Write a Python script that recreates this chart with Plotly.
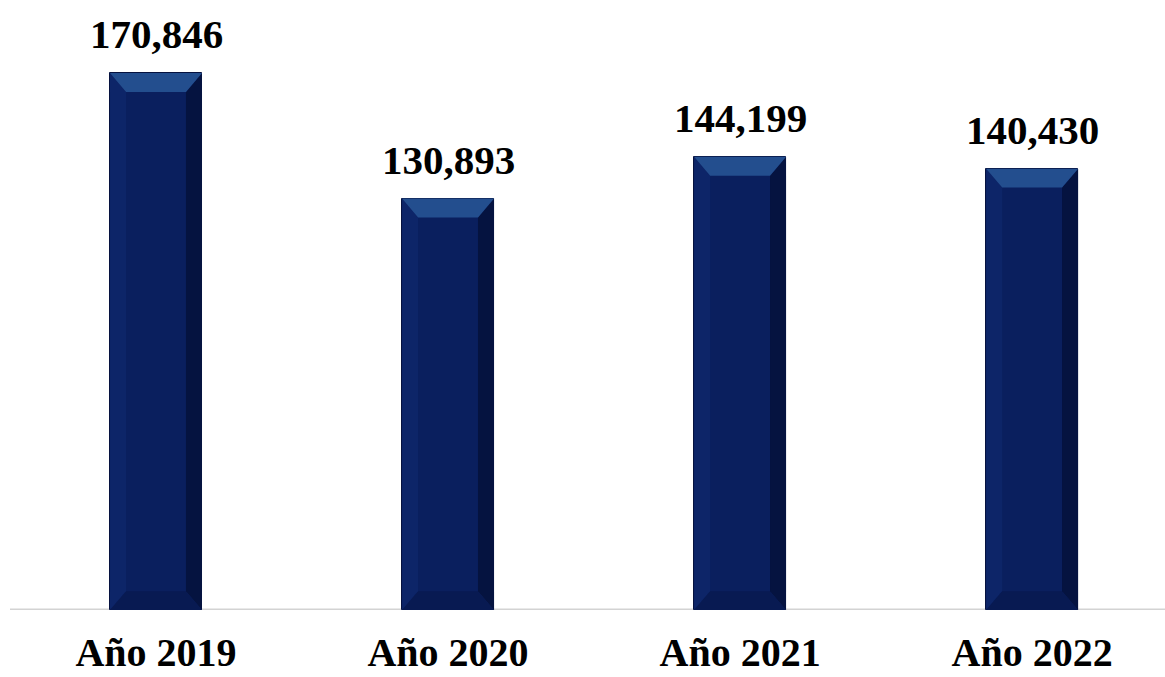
import plotly.graph_objects as go

categories = ["Año 2019", "Año 2020", "Año 2021", "Año 2022"]
values = [170846, 130893, 144199, 140430]
labels = ["170,846", "130,893", "144,199", "140,430"]

FONT = "Liberation Serif"
BAR_W = 0.315
X = list(range(len(categories)))

fig = go.Figure()

# main bars
fig.add_trace(go.Bar(
    x=X, y=values, width=BAR_W,
    marker=dict(color="#0a1f5e", line=dict(color="#06123f", width=1)),
    hoverinfo="skip", showlegend=False,
))

# bevel facets derived from the data values
DX = 0.055      # horizontal bevel size (category units)
DY = 6000       # vertical bevel size (value units)
for xi, v in zip(X, values):
    x0, x1 = xi - BAR_W / 2, xi + BAR_W / 2
    facets = [
        # left side
        ([x0, x0, x0 + DX, x0 + DX, x0], [0, v, v - DY, DY, 0], "#0d2568"),
        # right side
        ([x1, x1, x1 - DX, x1 - DX, x1], [0, v, v - DY, DY, 0], "#051340"),
        # bottom
        ([x0, x1, x1 - DX, x0 + DX, x0], [0, 0, DY, DY, 0], "#081a52"),
        # top
        ([x0, x1, x1 - DX, x0 + DX, x0], [v, v, v - DY, v - DY, v], "#234e8e"),
    ]
    for fx, fy, col in facets:
        fig.add_trace(go.Scatter(
            x=fx, y=fy, fill="toself", fillcolor=col, mode="lines",
            line=dict(width=0), hoverinfo="skip", showlegend=False,
        ))

# value labels above the bars
for xi, v, lab in zip(X, values, labels):
    fig.add_annotation(
        x=xi, y=v, xref="x", yref="y", text=lab, showarrow=False,
        yanchor="bottom", yshift=14,
        font=dict(family=FONT, size=41, color="black", weight="bold"),
    )

fig.update_layout(
    width=1165, height=677,
    margin=dict(l=10, r=0, t=10, b=67, autoexpand=False),
    plot_bgcolor="white", paper_bgcolor="white",
    bargap=0,
    xaxis=dict(
        range=[-0.5, 3.455], tickmode="array", tickvals=X, ticktext=categories,
        showgrid=False, zeroline=False, showline=False, automargin=False,
        tickfont=dict(family=FONT, size=40, color="black", weight="bold"),
        ticks="", ticklabelstandoff=15,
    ),
    yaxis=dict(
        range=[0, 190900], visible=False, showgrid=False, zeroline=False,
        automargin=False,
    ),
    shapes=[dict(type="line", xref="paper", yref="y", x0=0, x1=1, y0=0, y1=0,
                 line=dict(color="#d3d3d3", width=3), layer="below")],
)

fig.write_html("out.html", config={"displayModeBar": False},
               post_script="document.body.style.margin='0';")
